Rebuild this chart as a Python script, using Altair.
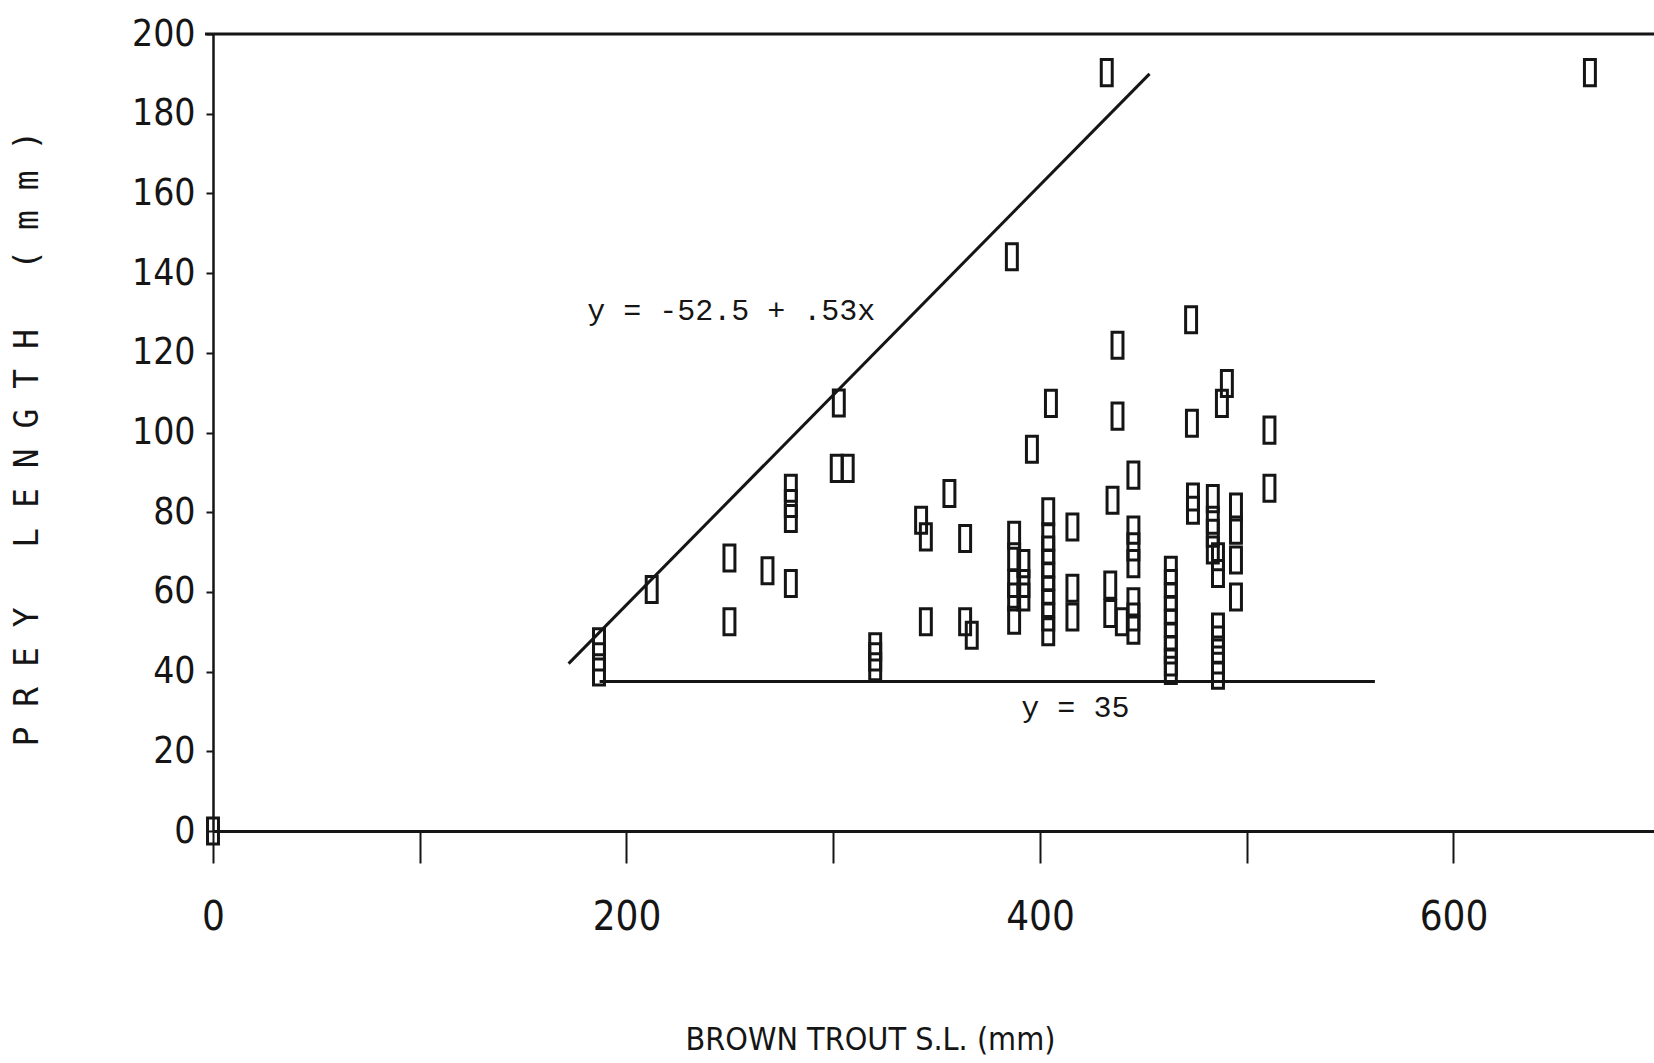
import altair as alt
import pandas as pd

# Brown trout standard length (mm) and prey length (mm)
trout_sl = [
    0,
    186.7, 186.7, 186.7,
    212.2,
    249.8, 249.8,
    268.2,
    279.5, 279.5, 279.5, 279.5,
    302.7, 301.7, 307.0,
    320.3, 320.3, 320.3,
    342.5, 344.8, 344.8,
    356.2,
    363.8, 363.8, 367.0,
    386.4,
    387.5, 387.5, 387.5, 387.5, 387.5,
    392.0, 392.0, 392.0,
    396.1, 405.3,
    404.0, 404.0, 404.0, 404.0, 404.0, 404.0, 404.0, 404.0, 404.0,
    415.7, 415.7, 415.7,
    432.3,
    434.0, 434.0, 439.6,
    435.1,
    437.5, 437.5,
    445.2, 445.2, 445.2, 445.2, 445.2, 445.2, 445.2,
    463.3, 463.3, 463.3, 463.3, 463.3, 463.3, 463.3, 463.3, 463.3,
    473.1, 473.5,
    474.0, 474.0,
    483.6, 483.6, 483.6, 483.6,
    486.1, 486.1,
    486.1, 486.1, 486.1, 486.1, 486.1,
    488.0, 490.4,
    494.8, 494.8, 494.8, 494.8,
    511.0, 511.0,
    666.0,
]
prey_len = [
    0,
    47.5, 43.7, 39.9,
    60.6,
    68.5, 52.5,
    65.3,
    86.0, 82.2, 78.4, 62.1,
    107.4, 91.0, 91.0,
    46.2, 43.7, 41.2,
    78.0, 73.8, 52.5,
    84.7,
    73.4, 52.5, 49.1,
    144.1,
    74.2, 68.8, 62.1, 58.7, 52.9,
    67.1, 62.1, 58.7,
    95.8, 107.3,
    80.1, 73.8, 70.5, 67.1, 63.8, 60.4, 57.1, 53.7, 50.0,
    76.3, 60.9, 53.7,
    190.3,
    61.7, 54.6, 52.5,
    83.0,
    121.9, 104.1,
    89.3, 75.5, 71.3, 67.1, 57.5, 53.7, 50.4,
    65.4, 62.1, 58.7, 55.4, 52.1, 48.7, 45.4, 42.4, 40.3,
    128.3, 102.3,
    83.8, 80.5,
    83.4, 78.0, 74.7, 70.5,
    68.8, 64.6,
    51.2, 47.9, 45.4, 42.9, 39.1,
    107.3, 112.3,
    81.3, 75.5, 68.0, 58.7,
    100.6, 86.0,
    190.3,
]

# Upper-limit regression line (end points as drawn)
upper_x = [172, 453]
upper_y = [42, 190]
# Lower limit line y = 35 (end points as drawn)
lower_x = [187, 562]
lower_y = [37.5, 37.5]

# Annotations
ann_text = ["y = -52.5 + .53x", "y = 35"]
ann_x = [181, 391]
ann_y = [130.5, 30.8]

x_ticks = [0, 100, 200, 300, 400, 500, 600]
y_ticks = [0, 20, 40, 60, 80, 100, 120, 140, 160, 180, 200]

NB = "\u00a0"
y_title = NB.join("PREY") + NB * 3 + NB.join("LENGTH") + NB * 3 + NB.join("(mm)")

W, H = 1441, 797
NARROW = "Liberation Sans Narrow, DejaVu Sans Condensed, Roboto Condensed, Liberation Sans, sans-serif"
INK = "#151515"

pts = pd.DataFrame({"sl": trout_sl, "prey": prey_len})
upper = pd.DataFrame({"sl": upper_x, "prey": upper_y})
lower = pd.DataFrame({"sl": lower_x[:1], "sl2": lower_x[1:], "prey": lower_y[:1]})
ann = pd.DataFrame({"sl": ann_x, "prey": ann_y, "t": ann_text})

xscale = alt.Scale(domain=[0, 697], nice=False, zero=False)
yscale = alt.Scale(domain=[0, 200], nice=False)

box = "M-0.42,-1L0.42,-1L0.42,1L-0.42,1Z"

points = alt.Chart(pts).mark_point(
    shape=box, size=680, filled=False, stroke=INK, strokeWidth=3, opacity=1
).encode(
    x=alt.X("sl:Q", scale=xscale, axis=alt.Axis(
        values=x_ticks,
        labelExpr="datum.value % 200 == 0 ? datum.label : ''",
        title="BROWN TROUT S.L. (mm)",
        grid=False, domainColor=INK, domainWidth=3,
        tickColor=INK, tickWidth=2, tickSize=32,
        labelFont=NARROW, labelFontSize=40, labelColor=INK,
        labelPadding=34, labelBaseline="top", labelFlush=False,
        titleFont=NARROW, titleFontSize=32, titleFontWeight="normal",
        titleColor=INK, titleX=657, titleY=208, titleBaseline="middle",
        titleAnchor="start", titleAlign="center",
    )),
    y=alt.Y("prey:Q", scale=yscale, axis=alt.Axis(
        values=y_ticks,
        title=y_title,
        grid=False, domainColor=INK, domainWidth=2.5,
        tickColor=INK, tickWidth=2, tickSize=7,
        labelFont=NARROW, labelFontSize=37, labelColor=INK,
        labelPadding=11, labelBaseline="middle", labelFlush=False,
        titleFont="DejaVu Sans Mono", titleFontSize=33, titleFontWeight="normal",
        titleColor=INK, titleX=-176, titleY=404, titleAngle=270,
        titleBaseline="alphabetic", titleAlign="center", titleAnchor="start",
    )),
)

top_border = alt.Chart(pd.DataFrame({"prey": [200]})).mark_rule(
    color=INK, strokeWidth=3.2
).encode(
    y=alt.Y("prey:Q", scale=yscale),
    x=alt.value(-8), x2=alt.value(W),
)

upper_line = alt.Chart(upper).mark_line(color=INK, strokeWidth=3).encode(
    x=alt.X("sl:Q", scale=xscale), y=alt.Y("prey:Q", scale=yscale)
)

lower_line = alt.Chart(lower).mark_rule(color=INK, strokeWidth=3).encode(
    x=alt.X("sl:Q", scale=xscale), x2="sl2:Q", y=alt.Y("prey:Q", scale=yscale)
)

labels = alt.Chart(ann).mark_text(
    font="Liberation Mono", fontSize=30, color=INK, align="left", baseline="middle"
).encode(
    x=alt.X("sl:Q", scale=xscale), y=alt.Y("prey:Q", scale=yscale), text="t:N"
)

chart = alt.layer(top_border, upper_line, lower_line, labels, points).properties(
    width=W, height=H,
    autosize=alt.AutoSizeParams(type="none"),
    padding={"left": 213, "top": 34, "right": 0, "bottom": 232},
    background="white",
).configure_view(stroke=None)

chart.save("out.html", embed_options={"renderer": "svg", "actions": False})
